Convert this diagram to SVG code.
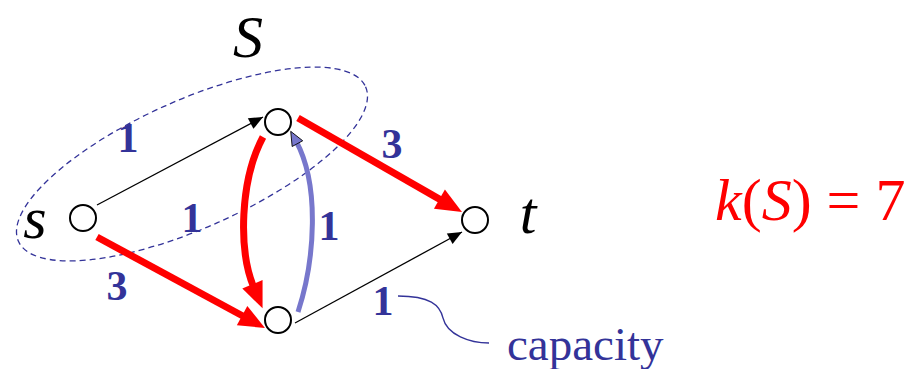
<svg xmlns="http://www.w3.org/2000/svg" width="914" height="369" viewBox="0 0 914 369">
<style>
.node{fill:#fff;stroke:#000;stroke-width:2}
.thin{fill:none;stroke:#000;stroke-width:1.3}
.red{fill:none;stroke:#ff0000;stroke-width:7}
.blue{fill:none;stroke:#7777cc;stroke-width:5}
.serif{font-family:"Liberation Serif",Tinos,"Times New Roman",Times,"DejaVu Serif",serif}
.cap{font-weight:bold;font-size:42px;fill:#333399;text-anchor:middle}
.it{font-style:italic;font-size:60px;fill:#000}
</style>
<defs>
<marker id="ab" markerUnits="userSpaceOnUse" markerWidth="16" markerHeight="14" refX="14" refY="6" orient="auto" overflow="visible"><path d="M0,0 L14,6 L0,12 z" fill="#000"/></marker>
<marker id="ar" markerUnits="userSpaceOnUse" markerWidth="28" markerHeight="24" refX="4" refY="11" orient="auto" overflow="visible"><path d="M0,0 L26,11 L0,22 z" fill="#ff0000"/></marker>
<marker id="au" markerUnits="userSpaceOnUse" markerWidth="16" markerHeight="14" refX="3" refY="6" orient="auto" overflow="visible"><path d="M0,0 L14,6 L0,12 z" fill="#7777cc" stroke="#000" stroke-width="0.8"/></marker>
</defs>
<ellipse id="setS" cx="192" cy="164" rx="190" ry="64" transform="rotate(-24 192 164)" fill="none" stroke="#333399" stroke-width="1.3" stroke-dasharray="6,4"/>
<g id="connectors">
<line class="thin" x1="97" y1="205" x2="263" y2="117" marker-end="url(#ab)"/>
<line class="thin" x1="295" y1="323" x2="462" y2="232" marker-end="url(#ab)"/>
<line class="red" x1="97" y1="237" x2="245.6" y2="317.5" marker-end="url(#ar)"/>
<line class="red" x1="298" y1="118" x2="442.9" y2="201.1" marker-end="url(#ar)"/>
<path class="red" d="M263,137 C240,180 238,250 254,288" marker-end="url(#ar)"/>
<path class="blue" d="M298,312 C315,260 320,185 296,141" marker-end="url(#au)"/>
<path d="M398,296 C430,296 440,305 443,318 C447,335 470,343 489,343" fill="none" stroke="#333399" stroke-width="1.3"/>
</g>
<g id="labels" class="serif">
<text class="cap" x="128" y="152">1</text>
<text class="cap" x="192" y="232">1</text>
<text class="cap" x="392" y="158">3</text>
<text class="cap" x="117" y="300">3</text>
<text class="cap" x="329" y="240">1</text>
<text class="cap" x="383" y="315">1</text>
</g>
<g id="node-s"><circle class="node" cx="83" cy="218" r="13"/><text class="serif it" x="35" y="238" text-anchor="middle">s</text></g>
<g id="node-a"><circle class="node" cx="278" cy="122" r="13"/></g>
<g id="node-b"><circle class="node" cx="278" cy="320" r="13"/></g>
<g id="node-t"><circle class="node" cx="475" cy="220" r="13"/><text class="serif it" x="528" y="233" text-anchor="middle">t</text></g>
<text class="serif it" x="248" y="57" text-anchor="middle" font-size="62">S</text>
<text class="serif" x="715" y="220" font-size="60" fill="#ff0000"><tspan font-style="italic">k</tspan>(<tspan font-style="italic">S</tspan>) = 7</text>
<text class="serif" x="507" y="360" font-size="47" fill="#333399">capacity</text>
</svg>
